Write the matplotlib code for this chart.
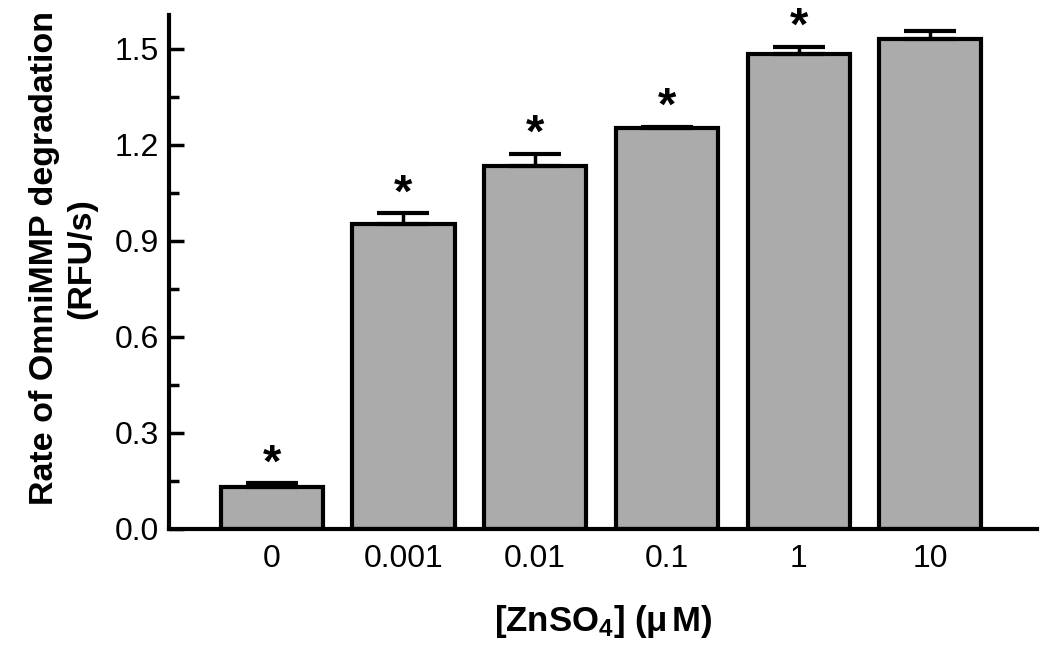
import matplotlib
matplotlib.use("Agg")
import matplotlib.pyplot as plt
from matplotlib.ticker import MultipleLocator

plt.rcParams['font.family'] = ['Liberation Sans', 'DejaVu Sans']
plt.rcParams['mathtext.fontset'] = 'custom'
plt.rcParams['mathtext.rm'] = 'Liberation Sans'
plt.rcParams['mathtext.bf'] = 'Liberation Sans:bold'
plt.rcParams['mathtext.it'] = 'Liberation Sans:italic'

categories = ["0", "0.001", "0.01", "0.1", "1", "10"]
values = [0.131, 0.953, 1.134, 1.252, 1.484, 1.531]
errors = [0.013, 0.034, 0.038, 0.004, 0.022, 0.025]
significant = [True, True, True, True, True, False]

fig = plt.figure(figsize=(10.5, 6.52), dpi=100)
ax = fig.add_axes([0.161, 0.1887, 0.9876 - 0.161, 0.977 - 0.1887])

x = list(range(len(categories)))
ax.bar(x, values, width=0.775, color='#ababab', edgecolor='black', linewidth=3,
       yerr=[[0]*len(errors), errors], capsize=19,
       error_kw=dict(elinewidth=2.5, capthick=3, ecolor='black'), zorder=2)

for xi, v, e, s in zip(x, values, errors, significant):
    if s:
        ax.text(xi, v + e + 0.058, "*", ha='center', va='center', fontsize=34,
                fontweight='bold')

ax.set_xlim(-0.78, 5.81)
ax.set_ylim(0, 1.605)
ax.set_xticks(x)
ax.set_xticklabels(categories)
ax.yaxis.set_minor_locator(MultipleLocator(0.15))
ax.set_yticks([0.0, 0.3, 0.6, 0.9, 1.2, 1.5])
ax.set_yticklabels(["0.0", "0.3", "0.6", "0.9", "1.2", "1.5"])
ax.tick_params(axis='y', which='major', direction='in', length=11, width=2.5,
               labelsize=23, pad=7)
ax.tick_params(axis='y', which='minor', direction='in', length=7, width=2.5)
ax.tick_params(axis='x', length=0, labelsize=23, pad=11)

for sp in ['top', 'right']:
    ax.spines[sp].set_visible(False)
for sp in ['left', 'bottom']:
    ax.spines[sp].set_linewidth(3)

ax.set_ylabel("Rate of OmniMMP degradation\n(RFU/s)", fontsize=24.5,
              fontweight='bold', linespacing=1.25)
ax.yaxis.set_label_coords(-0.083, 0.527)
ax.set_xlabel(r"[ZnSO$_{\mathbf{4}}$] ($\mathbf{\mu}\,$M)", fontsize=25,
              fontweight='bold', labelpad=21)

fig.savefig("out.png", dpi=100)
